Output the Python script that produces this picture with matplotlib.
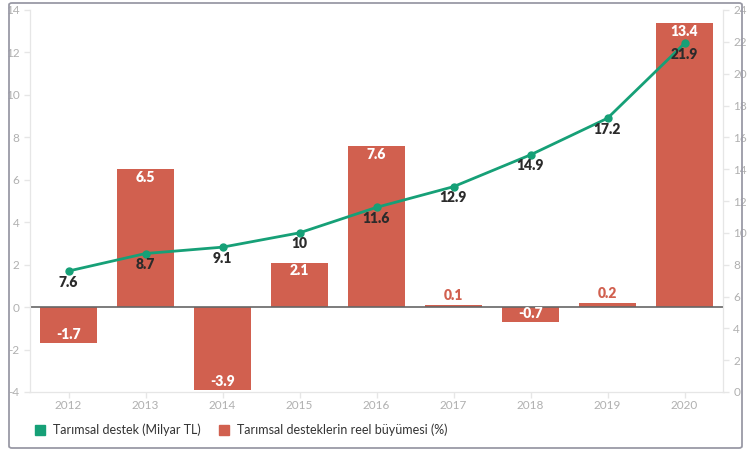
import matplotlib
matplotlib.use("Agg")
import matplotlib.pyplot as plt
from matplotlib.patches import FancyBboxPatch, Patch
import numpy as np

years = ["2012", "2013", "2014", "2015", "2016", "2017", "2018", "2019", "2020"]
support = [7.6, 8.7, 9.1, 10, 11.6, 12.9, 14.9, 17.2, 21.9]
growth = [-1.7, 6.5, -3.9, 2.1, 7.6, 0.1, -0.7, 0.2, 13.4]
left_ticks = [-4, -2, 0, 2, 4, 6, 8, 10, 12, 14]
right_ticks = [0, 2, 4, 6, 8, 10, 12, 14, 16, 18, 20, 22, 24]

BAR = "#d1604f"
LINE = "#16a077"
TICK = "#b0b0b0"
AX = "#e6e6e6"

plt.rcParams['font.family'] = ['Lato', 'DejaVu Sans']

fig = plt.figure(figsize=(7.5, 4.51), dpi=100)
ax = fig.add_axes([30/750, 1-392/451, (723-30)/750, (392-10)/451])
ax2 = ax.twinx()

x = np.arange(len(years))
ax.bar(x, growth, width=0.75, color=BAR, zorder=2)
ax.axhline(0, color="#666666", lw=1.2, zorder=3)
ax.set_ylim(-4, 14)
ax.set_xlim(-0.5, len(years)-0.5)
ax.set_yticks(left_ticks)
ax.set_yticklabels([str(t) for t in left_ticks])
ax.set_xticks(x)
ax.set_xticklabels(years)

LBL = dict(fontsize=10, fontweight="heavy")
for xi, v in zip(x, growth):
    if abs(v) < 0.5 and v > 0:
        ax.annotate(f"{v}", (xi, v), xytext=(0, 7), textcoords="offset points",
                    ha="center", va="center", color=BAR, zorder=5, **LBL)
    elif v >= 0:
        ax.annotate(f"{v}", (xi, v), xytext=(0, -6), textcoords="offset points",
                    ha="center", va="center", color="white", zorder=5, **LBL)
    else:
        ax.annotate(f"{v}", (xi, v), xytext=(0, 6), textcoords="offset points",
                    ha="center", va="center", color="white", zorder=5, **LBL)

ax2.set_ylim(0, 24)
ax2.set_yticks(right_ticks)
ax2.set_yticklabels([str(t) for t in right_ticks])
ax2.plot(x, support, color=LINE, lw=2, marker="o", ms=5, zorder=4)
for xi, v in zip(x, support):
    ax2.annotate(f"{v:g}", (xi, v), xytext=(0, -8), textcoords="offset points",
                 ha="center", va="center", color="#2b2b2b", zorder=6, **LBL)

for a in (ax, ax2):
    a.spines["top"].set_visible(False)
    a.spines["left"].set_color(AX)
    a.spines["right"].set_color(AX)
    a.spines["bottom"].set_color(AX)
    a.tick_params(colors=AX, labelcolor=TICK, labelsize=8.5, length=4, width=1)
ax.tick_params(axis="x", labelsize=8.5, pad=2)

frame = FancyBboxPatch((9/750, 3/451), (742-9)/750, (448-3)/451,
                       boxstyle="round,pad=0,rounding_size=0.004",
                       transform=fig.transFigure, fill=False, edgecolor="#9a9aa6", lw=1.3)
fig.patches.append(frame)

handles = [Patch(color=LINE), Patch(color=BAR)]
labels = ["Tarımsal destek (Milyar TL)", "Tarımsal desteklerin reel büyümesi (%)"]
fig.legend(handles, labels, loc="center left", bbox_to_anchor=(24/750, 1-430/451),
           ncol=2, frameon=False, fontsize=9, handlelength=0.8, handleheight=0.8,
           columnspacing=1.5, handletextpad=0.6, labelcolor="#333333")

fig.savefig("out.png", dpi=100)
